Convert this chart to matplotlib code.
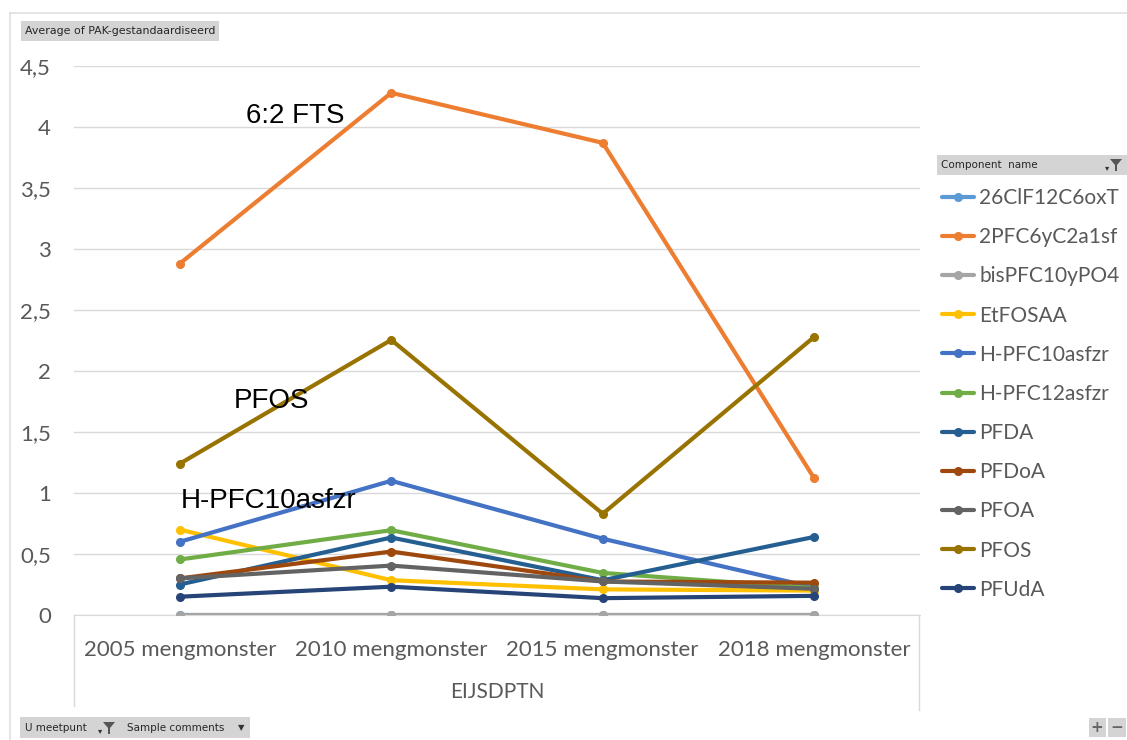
import matplotlib
matplotlib.use("Agg")
import matplotlib.pyplot as plt
from matplotlib.lines import Line2D
from matplotlib.patches import Rectangle, Polygon

categories = ["2005 mengmonster", "2010 mengmonster", "2015 mengmonster", "2018 mengmonster"]
series_names = ["26ClF12C6oxT", "2PFC6yC2a1sf", "bisPFC10yPO4", "EtFOSAA", "H-PFC10asfzr",
                "H-PFC12asfzr", "PFDA", "PFDoA", "PFOA", "PFOS", "PFUdA"]
v_26ClF12C6oxT = [0.0, 0.0, 0.0, 0.0]
v_2PFC6yC2a1sf = [2.88, 4.28, 3.87, 1.12]
v_bisPFC10yPO4 = [0.0, 0.0, 0.0, 0.0]
v_EtFOSAA = [0.70, 0.285, 0.21, 0.20]
v_HPFC10asfzr = [0.60, 1.10, 0.625, 0.225]
v_HPFC12asfzr = [0.455, 0.695, 0.345, 0.22]
v_PFDA = [0.25, 0.635, 0.285, 0.64]
v_PFDoA = [0.30, 0.52, 0.275, 0.265]
v_PFOA = [0.30, 0.405, 0.275, 0.215]
v_PFOS = [1.24, 2.255, 0.83, 2.28]
v_PFUdA = [0.15, 0.232, 0.138, 0.157]
series_values = [v_26ClF12C6oxT, v_2PFC6yC2a1sf, v_bisPFC10yPO4, v_EtFOSAA, v_HPFC10asfzr,
                 v_HPFC12asfzr, v_PFDA, v_PFDoA, v_PFOA, v_PFOS, v_PFUdA]
colors = ["#5B9BD5", "#ED7D31", "#A5A5A5", "#FFC000", "#4472C4", "#70AD47",
          "#255E91", "#9E480E", "#636363", "#997300", "#264478"]
y_ticks = [0, 0.5, 1, 1.5, 2, 2.5, 3, 3.5, 4, 4.5]
y_tick_labels = ["0", "0,5", "1", "1,5", "2", "2,5", "3", "3,5", "4", "4,5"]
axis_title = "EIJSDPTN"
annotations = [("6:2 FTS", 0.545, 4.09), ("PFOS", 0.436, 1.754), ("H-PFC10asfzr", 0.422, 0.934)]

W, H = 1127, 740
fig = plt.figure(figsize=(W / 100, H / 100), dpi=100)
fig.patch.set_facecolor("white")

def fx(px):
    return px / W

def fy(py):
    return 1 - py / H

ax = fig.add_axes([fx(74), fy(615), fx(920) - fx(74), fy(66) - fy(615)])
x = list(range(len(categories)))
lines = []
for name, vals, c in zip(series_names, series_values, colors):
    ln, = ax.plot(x, vals, color=c, lw=3, marker="o", ms=5.5, label=name,
                  solid_capstyle="round", zorder=3)
    lines.append(ln)

ax.set_xlim(-0.5, len(categories) - 0.5)
ax.set_ylim(0, 4.5)
ax.set_yticks(y_ticks)
ax.set_yticklabels(y_tick_labels, fontsize=16, color="#595959", family="Lato")
ax.set_xticks(x)
ax.set_xticklabels(categories, fontsize=16, color="#595959", family="Lato")
ax.tick_params(axis="both", length=0)
ax.tick_params(axis="y", pad=16.5)
ax.tick_params(axis="x", pad=18)
ax.grid(axis="y", color="#D9D9D9", lw=1, zorder=0)
for s in ["top", "right", "left"]:
    ax.spines[s].set_visible(False)
ax.spines["bottom"].set_color("#D9D9D9")
ax.set_axisbelow(True)

for txt, tx, ty in annotations:
    ax.text(tx, ty, txt, fontsize=20, family="Liberation Sans", color="black",
            ha="center", va="center", zorder=5)

fig.text(fx(497), fy(692), axis_title, fontsize=15, family="Lato", color="#595959",
         ha="center", va="center")

# category box lines and outer frame
fig.add_artist(Line2D([fx(74), fx(74)], [fy(615), fy(706)], color="#D9D9D9", lw=1))
fig.add_artist(Line2D([fx(919), fx(919)], [fy(615), fy(710)], color="#D9D9D9", lw=1))
fig.add_artist(Line2D([fx(10), fx(1127)], [fy(13), fy(13)], color="#E0E0E0", lw=1.2))
fig.add_artist(Line2D([fx(10), fx(10)], [fy(13), fy(740)], color="#E0E0E0", lw=1.2))

# title button
fig.add_artist(Rectangle((fx(21), fy(41)), fx(219) - fx(21), fy(21) - fy(41),
                         facecolor="#D4D4D4", edgecolor="none"))
fig.text(fx(25), fy(31), "Average of PAK-gestandaardiseerd", fontsize=7.9,
         family="DejaVu Sans", color="#262626", ha="left", va="center")

# legend header
fig.add_artist(Rectangle((fx(937), fy(175)), fx(1127) - fx(937), fy(155) - fy(175),
                         facecolor="#D4D4D4", edgecolor="none"))
fig.text(fx(941), fy(165), "Component  name", fontsize=7.5, family="DejaVu Sans",
         color="#262626", ha="left", va="center")
fig.add_artist(Polygon([[fx(1110), fy(159)], [fx(1122), fy(159)], [fx(1117), fy(165)],
                        [fx(1117), fy(171)], [fx(1115), fy(171)], [fx(1115), fy(165)]],
                       closed=True, facecolor="#555555", edgecolor="none"))
fig.text(fx(1107), fy(168), "▾", fontsize=6, color="#333333", ha="center", va="center")

# legend items
leg = fig.legend(handles=lines, labels=series_names, loc="upper left",
                 bbox_to_anchor=(fx(942), fy(188)), frameon=False,
                 prop={"family": "Lato", "size": 15}, labelcolor="#595959",
                 handlelength=1.54, handletextpad=0.24, labelspacing=0.92,
                 borderaxespad=0, borderpad=0)

# bottom buttons
fig.add_artist(Rectangle((fx(20), fy(738)), fx(250) - fx(20), fy(717) - fy(738),
                         facecolor="#D4D4D4", edgecolor="none"))
fig.text(fx(25), fy(728), "U meetpunt", fontsize=7.5, family="DejaVu Sans",
         color="#262626", ha="left", va="center")
fig.add_artist(Polygon([[fx(103), fy(722)], [fx(115), fy(722)], [fx(110), fy(728)],
                        [fx(110), fy(734)], [fx(108), fy(734)], [fx(108), fy(728)]],
                       closed=True, facecolor="#555555", edgecolor="none"))
fig.text(fx(100), fy(731), "▾", fontsize=6, color="#333333", ha="center", va="center")
fig.text(fx(127), fy(728), "Sample comments", fontsize=7.5, family="DejaVu Sans",
         color="#262626", ha="left", va="center")
fig.text(fx(241), fy(728), "▼", fontsize=6, color="#333333", ha="center", va="center")

fig.add_artist(Rectangle((fx(1089), fy(737)), fx(1106) - fx(1089), fy(718) - fy(737),
                         facecolor="#D4D4D4", edgecolor="none"))
fig.add_artist(Rectangle((fx(1108), fy(737)), fx(1126) - fx(1108), fy(718) - fy(737),
                         facecolor="#D4D4D4", edgecolor="none"))
fig.text(fx(1097), fy(727.5), "+", fontsize=11, color="#666666", ha="center", va="center",
         fontweight="bold")
fig.text(fx(1117), fy(727.5), "−", fontsize=11, color="#666666", ha="center", va="center",
         fontweight="bold")

fig.savefig("out.png", dpi=100)
